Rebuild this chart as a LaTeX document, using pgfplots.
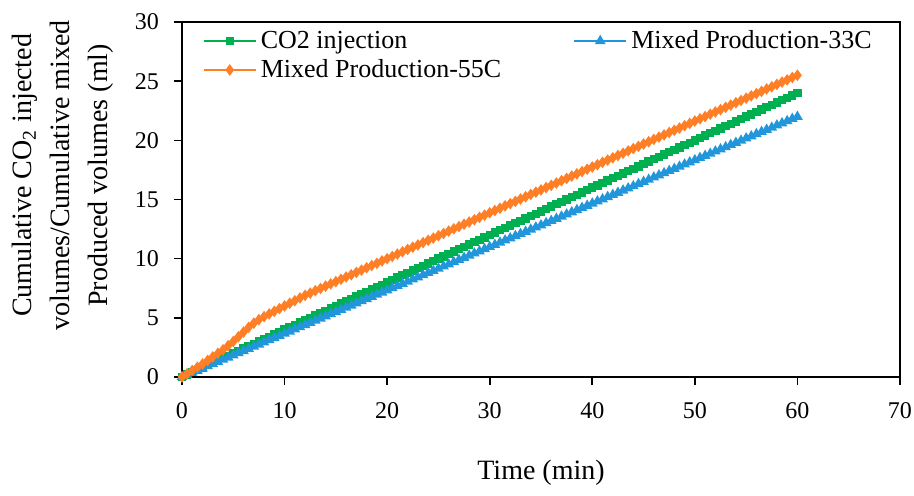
\documentclass[border=0pt]{standalone}
\usepackage{pgfplots}
\pgfplotsset{compat=1.18}
\usepackage{pgfplotstable}
\usepackage{fontspec}
\setmainfont{Liberation Serif}
\definecolor{cgreen}{RGB}{0,176,80}
\definecolor{cblue}{RGB}{34,150,218}
\definecolor{corange}{RGB}{255,127,39}
\pgfplotstableread{
t g b o
0 0 0 0
0.5 0.2 0.18 0.28
1 0.4 0.37 0.55
1.5 0.6 0.55 0.83
2 0.8 0.73 1.10
2.5 1.0 0.92 1.40
3 1.2 1.10 1.70
3.5 1.4 1.28 2.00
4 1.6 1.47 2.30
4.5 1.8 1.65 2.65
5 2.0 1.83 3.00
5.5 2.2 2.02 3.40
6 2.4 2.20 3.80
6.5 2.6 2.38 4.20
7 2.8 2.57 4.55
7.5 3.0 2.75 4.85
8 3.2 2.93 5.10
8.5 3.4 3.12 5.33
9 3.6 3.30 5.55
9.5 3.8 3.48 5.78
10 4.0 3.67 6.00
10.5 4.2 3.85 6.23
11 4.4 4.03 6.45
11.5 4.6 4.22 6.68
12 4.8 4.40 6.90
12.5 5.0 4.58 7.09
13 5.2 4.77 7.29
13.5 5.4 4.95 7.48
14 5.6 5.13 7.68
14.5 5.8 5.32 7.87
15 6.0 5.50 8.06
15.5 6.2 5.68 8.26
16 6.4 5.87 8.45
16.5 6.6 6.05 8.64
17 6.8 6.23 8.84
17.5 7.0 6.42 9.03
18 7.2 6.60 9.23
18.5 7.4 6.78 9.42
19 7.6 6.97 9.61
19.5 7.8 7.15 9.81
20 8.0 7.33 10.00
20.5 8.2 7.52 10.19
21 8.4 7.70 10.39
21.5 8.6 7.88 10.58
22 8.8 8.07 10.78
22.5 9.0 8.25 10.97
23 9.2 8.43 11.16
23.5 9.4 8.62 11.36
24 9.6 8.80 11.55
24.5 9.8 8.98 11.74
25 10.0 9.17 11.94
25.5 10.2 9.35 12.13
26 10.4 9.53 12.33
26.5 10.6 9.72 12.52
27 10.8 9.90 12.71
27.5 11.0 10.08 12.91
28 11.2 10.27 13.10
28.5 11.4 10.45 13.29
29 11.6 10.63 13.49
29.5 11.8 10.82 13.68
30 12.0 11.00 13.88
30.5 12.2 11.18 14.07
31 12.4 11.37 14.26
31.5 12.6 11.55 14.46
32 12.8 11.73 14.65
32.5 13.0 11.92 14.84
33 13.2 12.10 15.04
33.5 13.4 12.28 15.23
34 13.6 12.47 15.43
34.5 13.8 12.65 15.62
35 14.0 12.83 15.81
35.5 14.2 13.02 16.01
36 14.4 13.20 16.20
36.5 14.6 13.38 16.39
37 14.8 13.57 16.59
37.5 15.0 13.75 16.78
38 15.2 13.93 16.98
38.5 15.4 14.12 17.17
39 15.6 14.30 17.36
39.5 15.8 14.48 17.56
40 16.0 14.67 17.75
40.5 16.2 14.85 17.94
41 16.4 15.03 18.14
41.5 16.6 15.22 18.33
42 16.8 15.40 18.53
42.5 17.0 15.58 18.72
43 17.2 15.77 18.91
43.5 17.4 15.95 19.11
44 17.6 16.13 19.30
44.5 17.8 16.32 19.49
45 18.0 16.50 19.69
45.5 18.2 16.68 19.88
46 18.4 16.87 20.08
46.5 18.6 17.05 20.27
47 18.8 17.23 20.46
47.5 19.0 17.42 20.66
48 19.2 17.60 20.85
48.5 19.4 17.78 21.04
49 19.6 17.97 21.24
49.5 19.8 18.15 21.43
50 20.0 18.33 21.63
50.5 20.2 18.52 21.82
51 20.4 18.70 22.01
51.5 20.6 18.88 22.21
52 20.8 19.07 22.40
52.5 21.0 19.25 22.59
53 21.2 19.43 22.79
53.5 21.4 19.62 22.98
54 21.6 19.80 23.18
54.5 21.8 19.98 23.37
55 22.0 20.17 23.56
55.5 22.2 20.35 23.76
56 22.4 20.53 23.95
56.5 22.6 20.72 24.14
57 22.8 20.90 24.34
57.5 23.0 21.08 24.53
58 23.2 21.27 24.73
58.5 23.4 21.45 24.92
59 23.6 21.63 25.11
59.5 23.8 21.82 25.31
60 24.0 22.00 25.50
}\datatable
\begin{document}
\begin{tikzpicture}
\path[use as bounding box] (-91pt,-59pt) rectangle (366pt,188.5pt);
\begin{axis}[
  at={(0pt,0pt)}, anchor=south west,
  scale only axis, width=359pt, height=177.5pt,
  xmin=0, xmax=70, ymin=0, ymax=30,
  xtick={0,10,...,70}, ytick={0,5,...,30},
  tick align=outside, xtick pos=bottom, ytick pos=left,
  major tick length=4pt,
  tick style={black, line width=0.8pt},
  axis line style={black, line width=0.8pt},
  /pgf/number format/assume math mode=true,
  ticklabel style={font=\fontsize{12}{14}\selectfont},
  xticklabel style={yshift=-5pt},
  yticklabel style={xshift=-4pt},
  xlabel={Time (min)},
  xlabel style={font=\fontsize{14}{17}\selectfont, at={(axis description cs:0.5,-0.27)}, anchor=center},
  ylabel={Cumulative CO\textsubscript{2} injected\\volumes/Cumulative mixed\\Produced volumes (ml)},
  ylabel style={font=\fontsize{14}{19}\selectfont, align=center, at={(axis description cs:-0.166,0.568)}, anchor=center},
  legend columns=2,
  legend style={draw=none, fill=none, font=\fontsize{13}{15}\selectfont,
    at={(axis description cs:0.02,1.0)}, anchor=north west,
    /tikz/column 2/.style={column sep=34pt},
    row sep=0pt},
  legend cell align=left,
  legend image code/.code={\draw[mark repeat=2,mark phase=2,#1] plot coordinates {(0pt,0pt) (13pt,0pt) (26pt,0pt)};},
]
\addplot[cgreen, line width=1pt, mark=square*, mark size=1.6pt, mark options={solid}] table[x=t,y=g] {\datatable};
\addlegendentry{CO2 injection}
\addplot[cblue, line width=1pt, mark=triangle*, mark size=2.1pt, mark options={solid}] table[x=t,y=b] {\datatable};
\addlegendentry{Mixed Production-33C}
\addplot[corange, line width=1pt, mark=diamond*, mark size=2.1pt, mark options={solid}] table[x=t,y=o] {\datatable};
\addlegendentry{Mixed Production-55C}
\end{axis}
\end{tikzpicture}
\end{document}
